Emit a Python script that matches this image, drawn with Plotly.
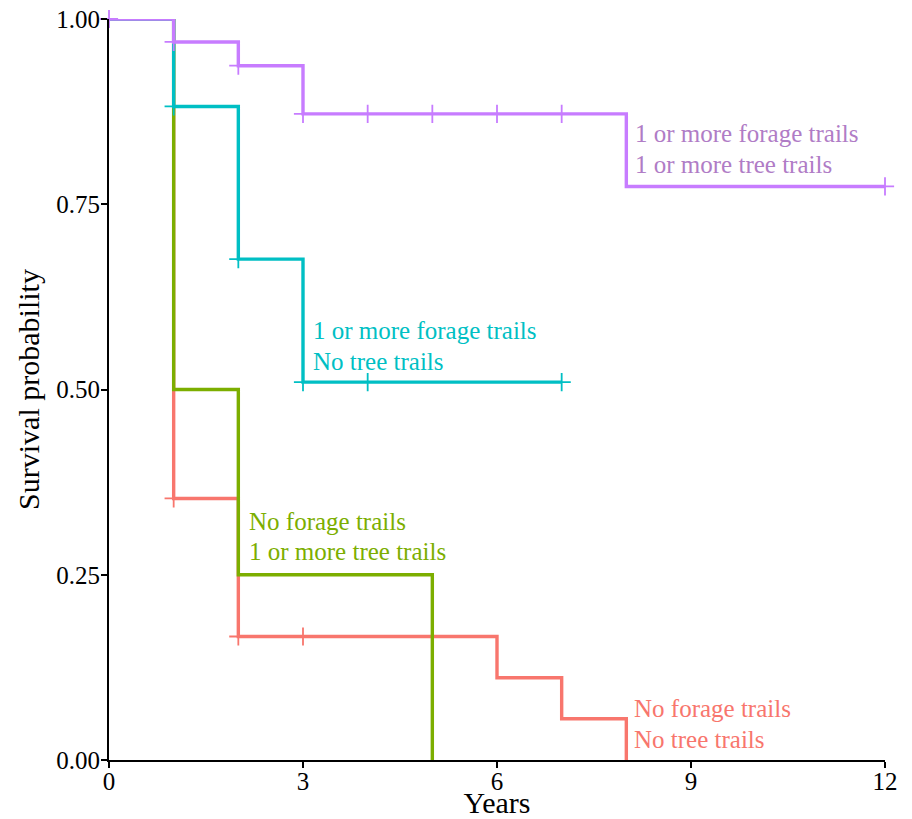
import plotly.graph_objects as go

# Kaplan-Meier step data (time in years, survival probability)
red_t = [0, 1, 2, 6, 7, 8]
red_s = [1.0, 0.353, 0.1667, 0.111, 0.0556, 0.0]
red_cens_t = [1, 2, 3]
red_cens_s = [0.353, 0.1667, 0.1667]

green_t = [0, 1, 2, 5]
green_s = [1.0, 0.5, 0.25, 0.0]

teal_t = [0, 1, 2, 3, 7]
teal_s = [1.0, 0.882, 0.676, 0.51, 0.51]
teal_cens_t = [1, 2, 3, 4, 7]
teal_cens_s = [0.882, 0.676, 0.51, 0.51, 0.51]

purple_t = [0, 1, 2, 3, 8, 12]
purple_s = [1.0, 0.969, 0.937, 0.872, 0.774, 0.774]
purple_cens_t = [0, 1, 2, 3, 4, 5, 6, 7, 12]
purple_cens_s = [1.0, 0.969, 0.937, 0.872, 0.872, 0.872, 0.872, 0.872, 0.774]

x_ticks = [0, 3, 6, 9, 12]
y_ticks = [0, 0.25, 0.5, 0.75, 1.0]
y_tick_labels = ["0.00", "0.25", "0.50", "0.75", "1.00"]

RED = "#F8766D"
GREEN = "#7CAE00"
TEAL = "#00BFC4"
PURPLE = "#C77CFF"
PURPLE_TEXT = "#B07CC6"
FONT = "Liberation Serif"

fig = go.Figure()

series = [
    (red_t, red_s, red_cens_t, red_cens_s, RED),
    (green_t, green_s, [], [], GREEN),
    (teal_t, teal_s, teal_cens_t, teal_cens_s, TEAL),
    (purple_t, purple_s, purple_cens_t, purple_cens_s, PURPLE),
]
for t, s, ct, cs, col in series:
    fig.add_trace(go.Scatter(x=t, y=s, mode="lines", line=dict(color=col, width=3.4, shape="hv"),
                             showlegend=False, hoverinfo="skip"))
    if ct:
        fig.add_trace(go.Scatter(x=ct, y=cs, mode="markers",
                                 marker=dict(symbol="cross-thin", size=13, line=dict(color=col, width=1.8)),
                                 showlegend=False, hoverinfo="skip", cliponaxis=False))

labels = [
    ("1 or more forage trails", "1 or more tree trails", 8.1, 0.846, 0.804, PURPLE_TEXT),
    ("1 or more forage trails", "No tree trails", 3.12, 0.580, 0.538, TEAL),
    ("No forage trails", "1 or more tree trails", 2.13, 0.3225, 0.282, GREEN),
    ("No forage trails", "No tree trails", 8.08, 0.070, 0.0283, RED),
]
for l1, l2, x, y1, y2, col in labels:
    for txt, y in ((l1, y1), (l2, y2)):
        fig.add_annotation(x=x, y=y, text=txt, showarrow=False, xanchor="left", yanchor="middle",
                           font=dict(family=FONT, size=25, color=col))

fig.update_layout(
    width=912, height=819,
    margin=dict(l=109, r=27, t=19, b=59),
    plot_bgcolor="white", paper_bgcolor="white",
    font=dict(family=FONT, size=25, color="black"),
    xaxis=dict(range=[0, 12], tickvals=x_ticks, showgrid=False, zeroline=False, automargin=False,
               showline=True, linecolor="black", linewidth=2, ticks="outside", ticklen=6,
               tickwidth=2, tickcolor="black", ticklabelstandoff=-8, ticklabeloverflow="allow",
               title=dict(text="Years", standoff=0)),
    yaxis=dict(range=[0, 1], tickvals=y_ticks, ticktext=y_tick_labels, showgrid=False, zeroline=False,
               automargin=False, ticklabelstandoff=-4, ticklabeloverflow="allow",
               showline=True, linecolor="black", linewidth=2, ticks="outside", ticklen=6,
               tickwidth=2, tickcolor="black", title=dict(text="Survival probability", standoff=8)),
)

fig.write_html("out.html", config={"displayModeBar": False},
               post_script="document.body.style.margin='0px';document.body.style.overflow='hidden';")
